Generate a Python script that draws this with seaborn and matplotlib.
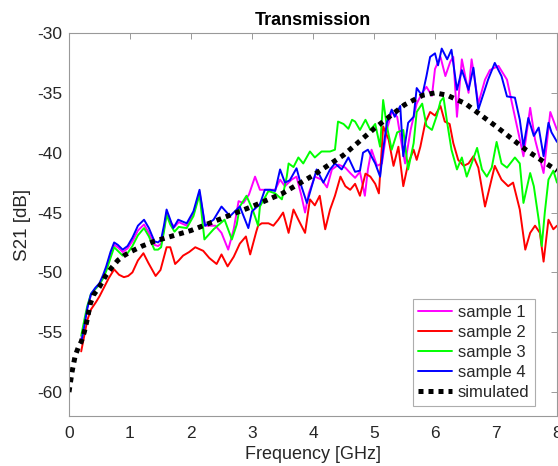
import matplotlib
matplotlib.use("Agg")
import matplotlib.pyplot as plt
import seaborn as sns
import pandas as pd
import numpy as np

# --- data (frequency in GHz, S21 in dB) ---
s1_f = [0.2, 0.25, 0.3, 0.36, 0.43, 0.5, 0.56, 0.61, 0.68, 0.74, 0.8, 0.88, 0.96, 1.04, 1.13, 1.23, 1.31, 1.4,
        1.46, 1.51, 1.56, 1.6, 1.66, 1.73, 1.8, 1.93, 2.04, 2.14, 2.23, 2.4, 2.5, 2.61, 2.7, 2.78, 2.86, 2.95,
        3.05, 3.13, 3.16, 3.27, 3.38, 3.46, 3.54, 3.65, 3.73, 3.81, 3.87, 3.93, 4.03, 4.14, 4.23, 4.31, 4.42,
        4.53, 4.61, 4.69, 4.77, 4.85, 4.9, 4.96, 5.05, 5.13, 5.21, 5.29, 5.38, 5.45, 5.51, 5.6, 5.7, 5.79, 5.86,
        5.95, 6.0, 6.09, 6.17, 6.25, 6.3, 6.36, 6.44, 6.55, 6.6, 6.71, 6.82, 6.9, 7.04, 7.18, 7.31, 7.45, 7.56,
        7.64, 7.78, 7.89, 8.0]
s1_db = [-55.6, -54.3, -53.0, -51.9, -51.4, -51.0, -50.4, -49.7, -48.5, -47.7, -47.9, -48.3, -48.0, -47.4, -46.5,
         -46.0, -46.7, -47.7, -47.8, -47.6, -46.3, -45.0, -45.8, -46.2, -45.8, -46.1, -45.1, -43.3, -46.1, -46.1,
         -46.7, -48.1, -46.4, -44.05, -44.2, -43.5, -42.0, -43.1, -43.1, -43.1, -43.1, -42.25, -42.8, -42.25,
         -42.0, -43.6, -45.0, -43.4, -42.0, -42.25, -42.9, -41.4, -41.0, -41.25, -41.7, -42.1, -41.6, -43.6,
         -41.4, -39.75, -41.1, -40.9, -38.1, -36.6, -37.0, -39.2, -40.9, -38.1, -35.9, -35.0, -34.5, -35.25,
         -33.0, -32.0, -33.6, -32.4, -32.0, -37.0, -32.2, -35.0, -32.2, -35.9, -33.9, -33.1, -32.75, -33.9,
         -37.0, -40.3, -36.25, -38.9, -41.7, -36.6, -38.1]

s2_f = [0.2, 0.25, 0.3, 0.36, 0.44, 0.5, 0.56, 0.65, 0.74, 0.82, 0.9, 0.97, 1.04, 1.13, 1.22, 1.3, 1.42, 1.5,
        1.6, 1.66, 1.74, 1.8, 1.87, 1.97, 2.07, 2.2, 2.3, 2.42, 2.5, 2.6, 2.7, 2.8, 2.9, 2.97, 3.07, 3.1, 3.16,
        3.27, 3.35, 3.43, 3.51, 3.6, 3.68, 3.76, 3.87, 3.95, 4.03, 4.11, 4.2, 4.28, 4.36, 4.45, 4.53, 4.61, 4.69,
        4.77, 4.86, 4.94, 5.02, 5.08, 5.15, 5.24, 5.32, 5.4, 5.48, 5.56, 5.65, 5.7, 5.76, 5.84, 5.92, 6.0, 6.09,
        6.16, 6.24, 6.3, 6.38, 6.47, 6.55, 6.63, 6.71, 6.82, 6.9, 6.98, 7.09, 7.2, 7.28, 7.39, 7.48, 7.56, 7.64,
        7.72, 7.78, 7.86, 7.94, 8.0]
s2_db = [-56.6, -55.3, -54.0, -53.1, -52.5, -52.0, -51.4, -50.5, -49.75, -50.2, -50.4, -50.3, -50.0, -49.0, -48.4,
         -49.2, -50.3, -49.8, -47.9, -47.9, -49.3, -49.0, -48.6, -48.3, -47.9, -48.2, -48.8, -49.3, -48.5, -49.5,
         -48.7, -47.6, -47.0, -48.5, -46.6, -46.1, -45.9, -45.9, -46.1, -45.6, -45.0, -46.7, -44.75, -45.6, -46.7,
         -43.9, -44.4, -43.6, -46.4, -44.75, -43.6, -42.0, -42.8, -43.1, -42.6, -43.6, -41.75, -42.0, -42.6,
         -43.4, -37.8, -38.9, -41.1, -39.5, -42.8, -40.9, -39.75, -40.6, -39.5, -37.5, -36.6, -36.9, -36.1,
         -37.4, -37.6, -39.2, -40.6, -41.1, -40.9, -40.3, -41.25, -44.5, -42.8, -41.1, -42.25, -42.8, -42.5,
         -44.75, -48.1, -46.7, -46.1, -46.7, -49.1, -45.6, -46.4, -46.1]

s3_f = [0.2, 0.25, 0.3, 0.36, 0.43, 0.5, 0.56, 0.61, 0.68, 0.74, 0.8, 0.88, 0.96, 1.04, 1.13, 1.23, 1.31, 1.4,
        1.46, 1.51, 1.56, 1.6, 1.66, 1.73, 1.8, 1.93, 2.04, 2.14, 2.22, 2.37, 2.55, 2.67, 2.75, 2.8, 2.91, 3.02,
        3.1, 3.13, 3.27, 3.38, 3.49, 3.57, 3.6, 3.68, 3.76, 3.84, 3.95, 4.03, 4.14, 4.28, 4.36, 4.41, 4.5, 4.58,
        4.64, 4.69, 4.77, 4.86, 4.94, 5.02, 5.1, 5.15, 5.21, 5.29, 5.38, 5.48, 5.56, 5.65, 5.7, 5.79, 5.86, 5.95,
        6.03, 6.09, 6.14, 6.2, 6.27, 6.36, 6.44, 6.52, 6.6, 6.69, 6.77, 6.85, 6.93, 7.01, 7.09, 7.18, 7.31, 7.39,
        7.45, 7.56, 7.62, 7.7, 7.75, 7.8, 7.86, 7.94, 8.0]
s3_db = [-55.3, -54.0, -52.8, -51.8, -51.4, -51.0, -50.5, -49.9, -48.8, -47.9, -48.2, -48.6, -48.4, -47.8, -46.9,
         -46.3, -47.0, -48.1, -48.1, -47.9, -46.5, -45.2, -46.0, -46.6, -46.2, -46.3, -45.3, -43.5, -47.25, -46.4,
         -45.6, -47.25, -46.0, -44.5, -43.6, -44.9, -46.1, -44.5, -43.2, -43.4, -43.9, -42.0, -40.9, -41.2, -40.4,
         -40.9, -39.9, -40.4, -39.9, -39.9, -39.75, -37.4, -37.6, -38.0, -37.25, -37.4, -38.1, -37.25, -38.1,
         -37.6, -39.5, -35.6, -37.75, -39.75, -38.3, -38.1, -41.4, -39.2, -36.6, -35.9, -37.75, -38.1, -36.9,
         -35.7, -35.4, -37.5, -39.75, -41.4, -40.4, -42.0, -40.9, -39.6, -41.4, -42.0, -41.25, -39.1, -40.9,
         -41.25, -40.4, -40.9, -44.2, -41.7, -42.8, -45.6, -47.8, -45.0, -42.25, -41.5, -42.5]

s4_f = [0.2, 0.25, 0.3, 0.36, 0.43, 0.5, 0.56, 0.61, 0.68, 0.74, 0.8, 0.88, 0.96, 1.04, 1.13, 1.23, 1.31, 1.4,
        1.46, 1.51, 1.56, 1.6, 1.71, 1.79, 1.93, 2.04, 2.14, 2.23, 2.37, 2.5, 2.64, 2.8, 2.94, 3.0, 3.13, 3.21,
        3.3, 3.38, 3.46, 3.54, 3.62, 3.73, 3.81, 3.9, 3.98, 4.06, 4.17, 4.28, 4.36, 4.47, 4.58, 4.69, 4.77, 4.82,
        4.9, 5.02, 5.1, 5.15, 5.21, 5.29, 5.34, 5.43, 5.48, 5.56, 5.65, 5.7, 5.79, 5.86, 5.92, 6.0, 6.05, 6.11,
        6.2, 6.27, 6.36, 6.44, 6.55, 6.63, 6.71, 6.87, 6.98, 7.09, 7.18, 7.31, 7.39, 7.45, 7.53, 7.62, 7.7, 7.78,
        7.86, 7.91, 8.0]
s4_db = [-55.9, -54.5, -53.0, -51.8, -51.3, -50.9, -50.2, -49.5, -48.3, -47.5, -47.7, -48.1, -47.8, -47.1, -46.1,
         -45.6, -46.3, -47.4, -47.5, -47.25, -46.0, -44.75, -46.3, -45.6, -45.9, -44.9, -43.1, -46.1, -45.6, -44.5,
         -45.3, -44.5, -46.3, -44.9, -44.3, -43.1, -43.1, -43.2, -41.4, -42.5, -42.3, -41.3, -42.8, -44.2, -42.8,
         -41.4, -42.5, -41.4, -40.9, -41.4, -40.4, -41.6, -41.5, -40.0, -39.75, -40.9, -42.0, -39.75, -37.5, -36.4,
         -37.0, -36.1, -40.3, -37.5, -37.0, -34.6, -35.25, -33.6, -32.0, -31.7, -32.7, -31.3, -32.2, -31.4,
         -34.75, -33.1, -34.75, -32.9, -36.4, -33.9, -32.5, -33.6, -35.3, -35.4, -37.25, -39.5, -37.1, -38.6,
         -37.9, -40.3, -37.5, -38.3, -39.1]

sim_f = [0, 0.05, 0.1, 0.15, 0.2, 0.25, 0.3, 0.35, 0.4, 0.5, 0.6, 0.7, 0.8, 0.9, 1.0, 1.2, 1.4, 1.6, 1.8, 2.0,
         2.5, 3.0, 3.5, 4.0, 4.5, 5.0, 5.5, 5.8, 6.0, 6.2, 6.5, 7.0, 7.5, 8.0]
sim_db = [-60, -58.3, -57.0, -56.3, -55.8, -55.0, -53.9, -52.6, -51.9, -51.2, -50.3, -49.6, -49.0, -48.6, -48.3,
          -47.8, -47.4, -47.1, -46.8, -46.5, -45.5, -44.5, -43.4, -41.9, -40.2, -38.0, -36.0, -35.2, -35.0, -35.2,
          -35.9, -37.8, -39.8, -41.5]

labels = ["sample 1", "sample 2", "sample 3", "sample 4"]
colors = ["#ff00ff", "#ff0000", "#00ff00", "#0000ff"]

frames = []
for name, f, db in zip(labels, [s1_f, s2_f, s3_f, s4_f], [s1_db, s2_db, s3_db, s4_db]):
    frames.append(pd.DataFrame({"freq": f, "s21": db, "series": name}))
meas = pd.concat(frames, ignore_index=True)
sim = pd.DataFrame({"freq": sim_f, "s21": sim_db})

sns.set_style("white")
plt.rcParams["font.family"] = ["Liberation Sans", "DejaVu Sans"]
plt.rcParams["axes.unicode_minus"] = False

fig = plt.figure(figsize=(5.58, 4.66), dpi=100)
ax = fig.add_axes([69 / 558, 1 - 416 / 466, 488 / 558, 383 / 466])

sns.lineplot(data=meas, x="freq", y="s21", hue="series", palette=dict(zip(labels, colors)),
             estimator=None, sort=False, linewidth=1.4, ax=ax)
sns.lineplot(data=sim, x="freq", y="s21", color="black", linewidth=3.6, linestyle=(0, (1, 1)),
             estimator=None, sort=False, label="simulated", ax=ax)

ax.set_xlim(0, 8)
ax.set_ylim(-62, -30)
ax.set_xticks(range(0, 9))
ax.set_yticks(range(-60, -29, 5))
ax.tick_params(direction="in", length=4, width=0.7, colors="#999999", labelcolor="#262626",
               labelsize=12.5, top=True, right=True)
ax.tick_params(axis="x", pad=7)
ax.tick_params(axis="y", pad=5)
for sp in ax.spines.values():
    sp.set_color("#999999")
    sp.set_linewidth(0.8)

ax.set_xlabel("Frequency [GHz]", fontsize=13, color="#262626", labelpad=4)
ax.set_ylabel("S21 [dB]", fontsize=13.5, color="#262626", labelpad=4)
ax.set_title("Transmission", fontsize=13, fontweight="bold", color="black", pad=6)

leg = ax.legend(loc="lower right", bbox_to_anchor=(535 / 558, 1 - 406 / 466), bbox_transform=fig.transFigure,
                borderaxespad=0, fontsize=12, frameon=True, fancybox=False, handlelength=2.0,
                handletextpad=0.35, labelspacing=0.3, borderpad=0.35)
leg.get_frame().set_edgecolor("#999999")
leg.get_frame().set_linewidth(0.8)
for line in leg.get_lines():
    line.set_linewidth(1.4)
leg.get_lines()[-1].set_linewidth(3.6)

fig.savefig("out.png", dpi=100)
